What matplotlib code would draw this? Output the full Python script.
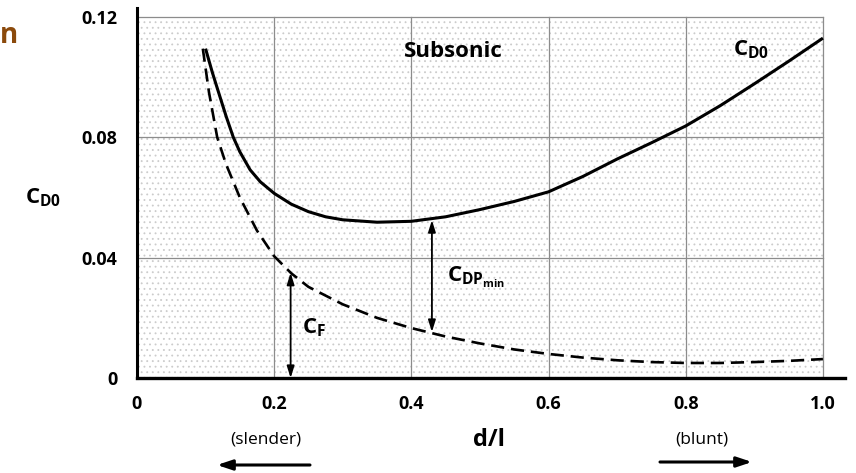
import matplotlib
matplotlib.use("Agg")
import matplotlib.pyplot as plt
from matplotlib.patches import Rectangle

plt.rcParams['font.family'] = ['Open Sans', 'DejaVu Sans']
plt.rcParams['mathtext.fontset'] = 'custom'
plt.rcParams['mathtext.rm'] = 'Open Sans:bold'
plt.rcParams['mathtext.it'] = 'Open Sans:bold'
plt.rcParams['mathtext.bf'] = 'Open Sans:bold'
plt.rcParams['hatch.linewidth'] = 0.6

# total zero-lift drag coefficient vs fineness (d/l)
d_over_l = [0.100, 0.110, 0.121, 0.130, 0.1405, 0.150, 0.165, 0.180, 0.200,
            0.225, 0.250, 0.275, 0.300, 0.350, 0.400, 0.450, 0.500, 0.550,
            0.600, 0.650, 0.700, 0.750, 0.800, 0.850, 0.900, 0.950, 1.000]
cd0 = [0.1095, 0.1015, 0.0935, 0.0870, 0.0800, 0.0752, 0.0692, 0.0652, 0.0614,
       0.0578, 0.0553, 0.0536, 0.0526, 0.0518, 0.0521, 0.0536, 0.0560, 0.0587,
       0.0619, 0.0670, 0.0728, 0.0782, 0.0838, 0.0905, 0.0978, 0.1053, 0.1130]

# skin friction part
d_over_l_f = [0.096, 0.105, 0.117, 0.130, 0.150, 0.175, 0.200, 0.225, 0.250,
              0.300, 0.350, 0.400, 0.450, 0.500, 0.550, 0.600, 0.650, 0.700,
              0.750, 0.800, 0.850, 0.900, 0.950, 1.000]
cf = [0.1095, 0.0950, 0.0800, 0.0710, 0.0600, 0.0490, 0.0405, 0.0348, 0.0303,
      0.0245, 0.0200, 0.0166, 0.0138, 0.0115, 0.0095, 0.0080, 0.0068, 0.0059,
      0.0053, 0.0050, 0.0050, 0.0053, 0.0057, 0.0063]

x_ticks = [0, 0.2, 0.4, 0.6, 0.8, 1.0]
x_tick_labels = ['0', '0.2', '0.4', '0.6', '0.8', '1.0']
y_ticks = [0, 0.04, 0.08, 0.12]
y_tick_labels = ['0', '0.04', '0.08', '0.12']

cf_arrow_x = 0.224
cf_arrow_top = 0.0350
cdp_arrow_x = 0.430
cdp_arrow_top = 0.0525
cdp_arrow_bottom = 0.0153

fig = plt.figure(figsize=(8.56, 4.73), dpi=100)
ax = fig.add_axes([0.16, 0.2008, 0.827, 0.7822])
ax.set_xlim(0, 1.032)
ax.set_ylim(0, 0.123)

# stippled plotting field
ax.add_patch(Rectangle((0, 0), 1.0, 0.12, facecolor='white', edgecolor='#cccccc',
                       hatch='...', linewidth=0, zorder=0))

grid_kw = dict(color='#8c8c8c', linewidth=0.9, zorder=1)
for gx in x_ticks[1:]:
    ax.plot([gx, gx], [0, 0.12], **grid_kw)
for gy in y_ticks[1:]:
    ax.plot([0, 1.0], [gy, gy], **grid_kw)

ax.plot(d_over_l, cd0, color='black', linewidth=2.2, zorder=3,
        solid_capstyle='butt', solid_joinstyle='round')
ax.plot(d_over_l_f, cf, color='black', linewidth=1.9, dashes=(5, 2.6), zorder=3)

arrow_kw = dict(arrowstyle='<|-|>,head_length=0.7,head_width=0.22',
                color='black', linewidth=1.3, shrinkA=0, shrinkB=0)
ax.annotate('', xy=(cf_arrow_x, 0), xytext=(cf_arrow_x, cf_arrow_top),
            arrowprops=arrow_kw, zorder=4)
ax.annotate('', xy=(cdp_arrow_x, cdp_arrow_bottom), xytext=(cdp_arrow_x, cdp_arrow_top),
            arrowprops=arrow_kw, zorder=4)

ax.text(0.461, 0.1084, 'Subsonic', ha='center', va='center', fontsize=16,
        fontweight='bold')
ax.text(0.896, 0.109, r'$\mathbf{C_{D0}}$', ha='center', va='center', fontsize=16)
ax.text(0.258, 0.0166, r'$\mathbf{C_F}$', ha='center', va='center', fontsize=16)
ax.text(0.452, 0.0335, r'$\mathbf{C_{DP_{min}}}$', ha='left', va='center', fontsize=16)
ax.text(-0.137, 0.060, r'$\mathbf{C_{D0}}$', ha='center', va='center', fontsize=16,
        clip_on=False)

ax.set_xticks(x_ticks)
ax.set_xticklabels(x_tick_labels, fontsize=13, fontweight='bold')
ax.set_yticks(y_ticks)
ax.set_yticklabels(y_tick_labels, fontsize=13, fontweight='bold')
ax.tick_params(length=0, pad=12)
ax.tick_params(axis='y', pad=14)

for side in ('top', 'right'):
    ax.spines[side].set_visible(False)
ax.spines['left'].set_linewidth(2.2)
ax.spines['bottom'].set_linewidth(2.4)

fig.text(0.571, 0.07, 'd/l', ha='center', va='center', fontsize=17, fontweight='bold')
fig.text(0.311, 0.07, '(slender)', ha='center', va='center', fontsize=12.5)
fig.text(0.820, 0.07, '(blunt)', ha='center', va='center', fontsize=12.5)
fig.text(0.0, 0.925, 'n', ha='left', va='center', fontsize=20, fontweight='bold',
         color='#8b4a0c')

ax.annotate('', xy=(217 / 856, 1 - 465 / 473), xytext=(310 / 856, 1 - 465 / 473),
            xycoords='figure fraction', textcoords='figure fraction',
            arrowprops=dict(arrowstyle='-|>,head_length=0.9,head_width=0.3',
                            color='black', linewidth=2.2, shrinkA=0, shrinkB=0))
ax.annotate('', xy=(752 / 856, 1 - 462 / 473), xytext=(660 / 856, 1 - 462 / 473),
            xycoords='figure fraction', textcoords='figure fraction',
            arrowprops=dict(arrowstyle='-|>,head_length=0.9,head_width=0.3',
                            color='black', linewidth=2.2, shrinkA=0, shrinkB=0))

fig.savefig('out.png', dpi=100)
